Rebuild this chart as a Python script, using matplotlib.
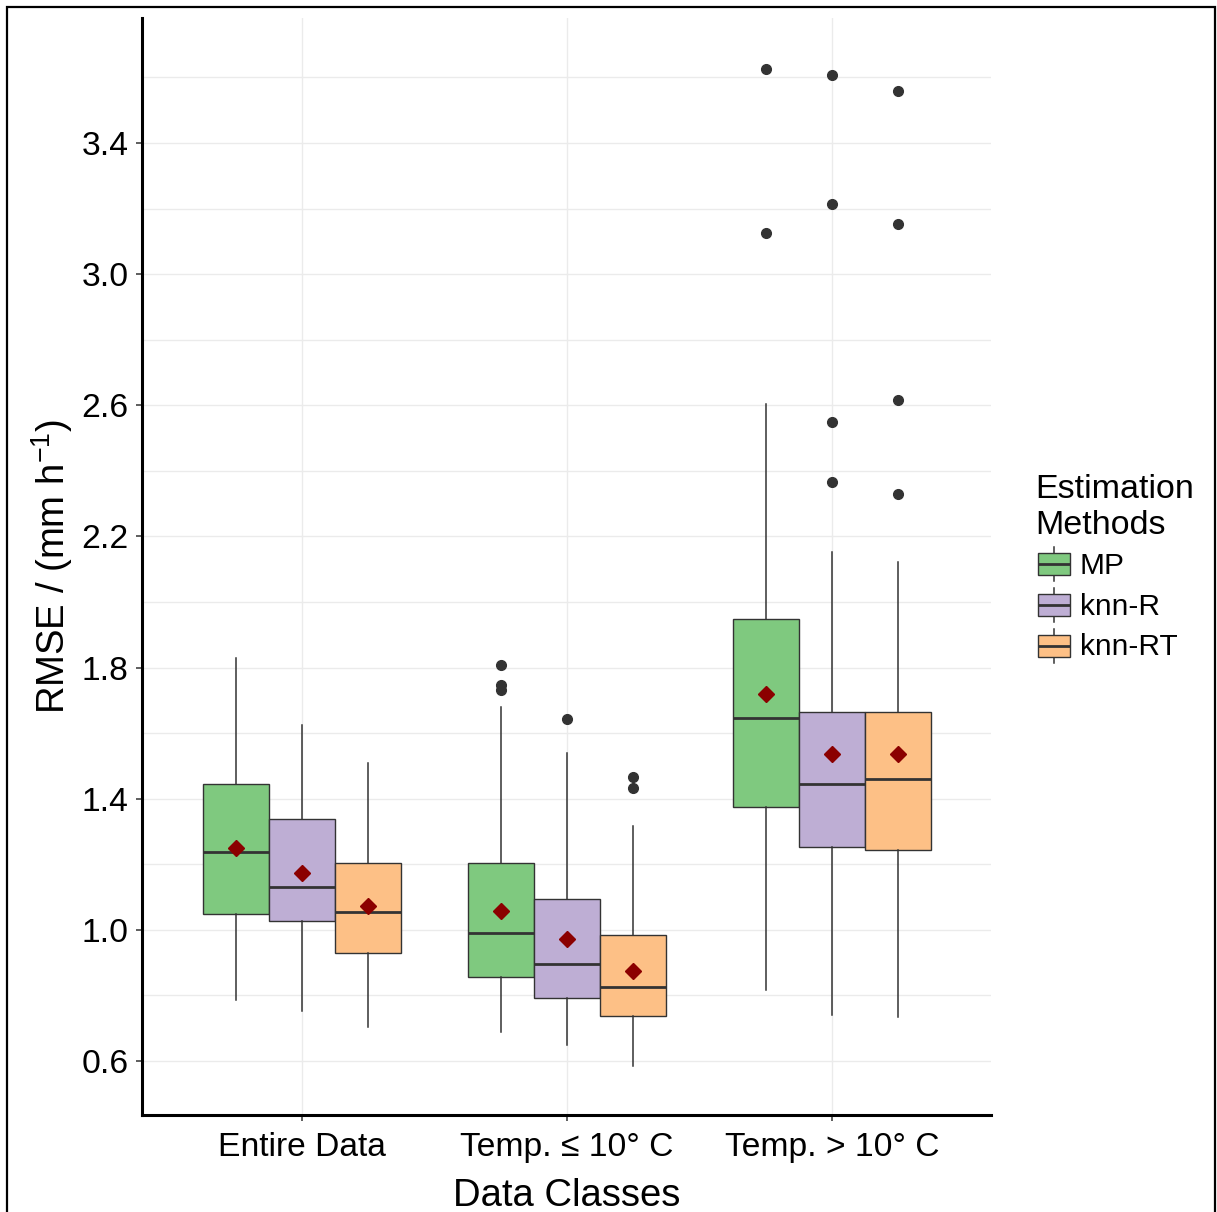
import matplotlib
matplotlib.use('Agg')
import matplotlib.pyplot as plt
from matplotlib.patches import Rectangle, Patch
from matplotlib.lines import Line2D
from matplotlib.legend_handler import HandlerBase

plt.rcParams['font.family'] = ['Liberation Sans', 'DejaVu Sans']
plt.rcParams['mathtext.fontset'] = 'custom'
plt.rcParams['mathtext.rm'] = 'Liberation Sans'
plt.rcParams['mathtext.it'] = 'Liberation Sans:italic'
plt.rcParams['mathtext.bf'] = 'Liberation Sans:bold'

# ---------------- data ----------------
categories = ['Entire Data', 'Temp. ≤ 10° C', 'Temp. > 10° C']
methods = ['MP', 'knn-R', 'knn-RT']
colors = ['#7FC97F', '#BEAED4', '#FDC086']

# rows: methods (MP, knn-R, knn-RT); columns: categories
whisker_low = [[0.786, 0.688, 0.817],
               [0.754, 0.649, 0.740],
               [0.705, 0.585, 0.735]]
quart_1 = [[1.048, 0.857, 1.375],
           [1.028, 0.791, 1.252],
           [0.928, 0.737, 1.242]]
medians = [[1.237, 0.990, 1.645],
           [1.132, 0.896, 1.446],
           [1.055, 0.825, 1.459]]
quart_3 = [[1.445, 1.205, 1.947],
           [1.339, 1.094, 1.665],
           [1.203, 0.983, 1.665]]
whisker_high = [[1.828, 1.681, 2.603],
                [1.625, 1.538, 2.151],
                [1.510, 1.318, 2.123]]
means = [[1.249, 1.058, 1.720],
         [1.174, 0.973, 1.535],
         [1.073, 0.875, 1.535]]
outliers = [[[], [1.808, 1.747, 1.732], [3.625, 3.125]],
            [[], [1.642], [3.607, 3.214, 2.548, 2.366]],
            [[], [1.467, 1.434], [3.558, 3.152, 2.615, 2.328]]]

y_ticks = [0.6, 1.0, 1.4, 1.8, 2.2, 2.6, 3.0, 3.4]
y_minor = [0.8, 1.2, 1.6, 2.0, 2.4, 2.8, 3.2, 3.6]

# ---------------- figure ----------------
W, H = 1217, 1212
fig = plt.figure(figsize=(W / 100, H / 100), dpi=100)
ax = fig.add_axes([142 / W, 1 - 1115 / H, (991 - 142) / W, (1115 - 18) / H])

edge = '#333333'
box_w = 0.25
offsets = [-0.25, 0.0, 0.25]
for mi, m in enumerate(methods):
    stats = []
    for ci in range(len(categories)):
        stats.append(dict(med=medians[mi][ci], q1=quart_1[mi][ci], q3=quart_3[mi][ci],
                          whislo=whisker_low[mi][ci], whishi=whisker_high[mi][ci],
                          mean=means[mi][ci], fliers=outliers[mi][ci], label=categories[ci]))
    pos = [ci + 1 + offsets[mi] for ci in range(len(categories))]
    ax.bxp(stats, positions=pos, widths=box_w, patch_artist=True, showcaps=False,
           showmeans=True, manage_ticks=False,
           boxprops=dict(facecolor=colors[mi], edgecolor=edge, linewidth=1.0),
           medianprops=dict(color=edge, linewidth=2.0, solid_capstyle='butt'),
           whiskerprops=dict(color=edge, linewidth=1.1),
           flierprops=dict(marker='o', markerfacecolor=edge, markeredgecolor=edge,
                           markersize=7),
           meanprops=dict(marker='D', markerfacecolor='#8B0000', markeredgecolor='#8B0000',
                          markersize=7.8),
           zorder=3)

ax.set_xlim(0.396, 3.6)
ax.set_ylim(0.4353, 3.781)
ax.set_xticks([1, 2, 3])
ax.set_xticklabels(categories)
ax.set_yticks(y_ticks)
ax.set_yticklabels([f'{v:.1f}' for v in y_ticks])
ax.set_yticks(y_minor, minor=True)

ax.grid(True, which='major', color='#EBEBEB', linewidth=1.0, zorder=0)
ax.grid(True, which='minor', axis='y', color='#EBEBEB', linewidth=1.0, zorder=0)
ax.set_axisbelow(True)

for s in ['top', 'right']:
    ax.spines[s].set_visible(False)
for s in ['left', 'bottom']:
    ax.spines[s].set_linewidth(2.2)
    ax.spines[s].set_color('black')

ax.tick_params(axis='both', which='major', length=4.5, width=1.1, color=edge,
               labelsize=24.2, labelcolor='black')
ax.tick_params(axis='x', pad=8)
ax.tick_params(axis='y', pad=5)
ax.tick_params(axis='y', which='minor', length=0)

ax.set_xlabel('Data Classes', fontsize=27.5)
ax.set_ylabel(r'RMSE / (mm h$^{-1}$)', fontsize=27.5)
ax.yaxis.set_label_coords(-0.079, 0.5)
ax.xaxis.set_label_coords(0.5, -0.057)


# ---------------- legend ----------------
class BoxHandler(HandlerBase):
    def create_artists(self, legend, orig_handle, xdescent, ydescent, width, height,
                       fontsize, trans):
        x0, y0 = -xdescent, -ydescent
        inset = width * 0.085
        bx0, bx1 = x0 + inset, x0 + width
        bh = height * 0.61
        by = y0 + (height - bh) / 2
        wy0, wy1 = y0 + height * 0.03, y0 + height * 0.97
        cx = (bx0 + bx1) / 2
        wl1 = Line2D([cx, cx], [wy0, by], color=edge, lw=1.1, transform=trans)
        wl2 = Line2D([cx, cx], [by + bh, wy1], color=edge, lw=1.1, transform=trans)
        rect = Rectangle((bx0, by), bx1 - bx0, bh, facecolor=orig_handle.get_facecolor(),
                         edgecolor=edge, lw=1.0, transform=trans)
        med = Line2D([bx0, bx1], [by + bh / 2] * 2, color=edge, lw=2.0,
                     transform=trans, solid_capstyle='butt')
        return [wl1, wl2, rect, med]


handles = [Patch(facecolor=c) for c in colors]
leg = fig.legend(handles, methods, handler_map={Patch: BoxHandler()},
                 loc='upper left', bbox_to_anchor=(1035 / W, 1 - 474 / H),
                 frameon=False, fontsize=21.5, title='Estimation\nMethods',
                 title_fontsize=24.5, handlelength=1.17, handleheight=1.475,
                 handletextpad=0.33, labelspacing=0.167, borderpad=0,
                 borderaxespad=0, alignment='left')

# ---------------- figure border ----------------
fig.add_artist(Rectangle((7 / W, -0.01), (1215 - 7) / W, 1.01 - 7 / H,
                         transform=fig.transFigure, fill=False, edgecolor='black',
                         linewidth=1.6, clip_on=False))

fig.savefig('out.png', dpi=100)
